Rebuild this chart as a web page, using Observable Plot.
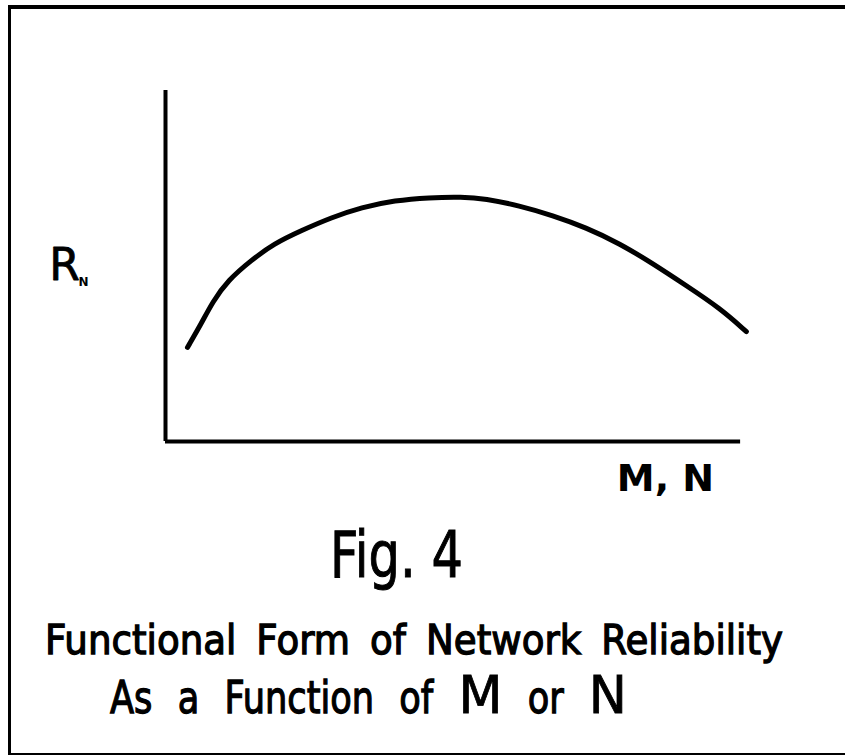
<!DOCTYPE html>
<html>
<head>
<meta charset="utf-8">
<script src="https://cdn.jsdelivr.net/npm/d3@7"></script>
<script src="https://cdn.jsdelivr.net/npm/@observablehq/plot@0.6"></script>
<style>
  html, body { margin: 0; padding: 0; background: #fff; overflow: hidden; width: 845px; height: 755px; }
  #page { position: relative; width: 845px; height: 755px; background: #fff; overflow: hidden; }
  #frame { position: absolute; left: 8px; top: 5px; width: 834px; height: 744px;
           border-left: 3px solid #000; border-top: 4px solid #000; border-bottom: 3px solid #000;
           pointer-events: none; z-index: 2; }
  #chart { position: absolute; left: 0; top: 0; }
  #captions { position: absolute; left: 0; top: 500px; }
</style>
</head>
<body>
<div id="page">
  <div id="chart"></div>
  <div id="captions"></div>
  <div id="frame"></div>
</div>
<script>
// M, N (relative units, 0..100) and network reliability R_N (relative units, 0..100)
const mn = [3.8, 6.1, 8.2, 10.8, 14.8, 18.8, 23.5, 28.7, 33.9, 39.7, 45.6, 51.3, 55.3, 61.2, 67, 72.7, 78.6, 84.3, 90.1, 96, 100.5];
const rn = [26.8, 33.3, 39.9, 45.9, 51.6, 56.4, 60.1, 63.8, 66.7, 68.7, 69.5, 69.7, 69.2, 67.2, 64.4, 61, 56.4, 50.7, 44.4, 37.9, 31.3];
const xLabel = "M, N";
const yLabel = "R";
const yLabelSub = "N";
const figTitle = "Fig. 4";
const captionLine1 = ["Functional", "Form", "of", "Network", "Reliability"];
const captionLine2 = ["As", "a", "Function", "of", "M", "or", "N"];
const captionLine2Big = ["M", "N"];

const curve = mn.map((m, i) => ({m, r: rn[i]}));
const FONT = "DejaVu Sans, sans-serif";

const plot = Plot.plot({
  width: 845,
  height: 500,
  marginLeft: 165,
  marginRight: 102,
  marginTop: 90,
  marginBottom: 59,
  x: {domain: [0, 100], axis: null},
  y: {domain: [0, 100], axis: null},
  style: {background: "transparent", fontFamily: FONT},
  marks: [
    Plot.ruleX([0], {stroke: "#000", strokeWidth: 4}),
    Plot.ruleY([0], {x1: 0, x2: 99.5, stroke: "#000", strokeWidth: 4}),
    Plot.line(curve, {x: "m", y: "r", curve: "basis", stroke: "#000", strokeWidth: 5, strokeLinecap: "round"}),
    Plot.text([yLabel], {x: 0, y: 50, dx: -101, text: d => d, fontSize: 44, fill: "#000", stroke: "#000", strokeWidth: 0.8, textAnchor: "middle"}),
    Plot.text([yLabelSub], {x: 0, y: 50, dx: -82, dy: 16, text: d => d, fontSize: 12, fontWeight: "bold", fill: "#000", textAnchor: "middle"}),
    Plot.text([xLabel], {x: 100, y: 0, dx: -78, dy: 37, text: d => d, fontSize: 38, fontWeight: "bold", fill: "#000", textAnchor: "middle"})
  ]
});
document.getElementById("chart").appendChild(plot);

// captions below the chart (baselines relative to this 255px-high block)
const cap = d3.select("#captions").append("svg")
  .attr("width", 845).attr("height", 255)
  .style("display", "block")
  .attr("font-family", FONT);

cap.append("text")
  .attr("x", 330).attr("y", 77)
  .attr("font-size", 64)
  .attr("textLength", 133).attr("lengthAdjust", "spacingAndGlyphs")
  .attr("fill", "#000").attr("stroke", "#000").attr("stroke-width", 1)
  .text(figTitle);

// lay out a hand-lettered line: condensed glyphs with wide word gaps
function drawLine(words, x0, x1, baseline, size, squeeze, bigWords, bigSize, bigSqueeze) {
  const nodes = words.map(w => {
    const big = bigWords.includes(w);
    return cap.append("text")
      .attr("y", baseline)
      .attr("font-size", big ? bigSize : size)
      .attr("fill", "#000").attr("stroke", "#000").attr("stroke-width", big ? 0.8 : 1.3)
      .text(w);
  });
  const widths = nodes.map((n, i) => n.node().getComputedTextLength() * (bigWords.includes(words[i]) ? bigSqueeze : squeeze));
  const gap = (x1 - x0 - d3.sum(widths)) / (words.length - 1);
  let x = x0;
  nodes.forEach((n, i) => {
    n.attr("x", x).attr("textLength", widths[i]).attr("lengthAdjust", "spacingAndGlyphs");
    x += widths[i] + gap;
  });
}
drawLine(captionLine1, 45, 783, 154, 40, 0.93, [], 40, 1);
drawLine(captionLine2, 110, 627, 213, 44, 0.8, captionLine2Big, 52, 0.98);
</script>
</body>
</html>
